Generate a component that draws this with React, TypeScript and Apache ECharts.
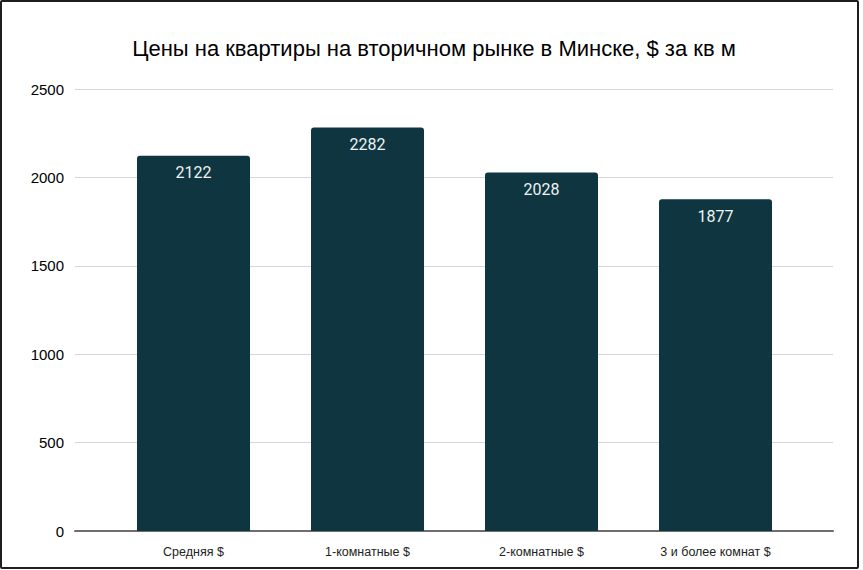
import { useEffect, useRef } from 'react';
import * as echarts from 'echarts';

const categories = ['Средняя $', '1-комнатные $', '2-комнатные $', '3 и более комнат $'];
const prices = [2122, 2282, 2028, 1877];
const yTicks = [0, 500, 1000, 1500, 2000, 2500];

const BAR_COLOR = '#0f3540';

export default function App() {
  const chartRef = useRef<HTMLDivElement>(null);

  useEffect(() => {
    if (!chartRef.current) return;
    const chart = echarts.init(chartRef.current, undefined, { renderer: 'svg' });

    const yMax = yTicks[yTicks.length - 1];

    const option: echarts.EChartsOption = {
      animation: false,
      backgroundColor: '#ffffff',
      title: {
        text: 'Цены на квартиры на вторичном рынке в Минске, $ за кв м',
        left: 429,
        top: 32,
        textAlign: 'center',
        textStyle: {
          fontFamily: 'Liberation Sans',
          fontSize: 22,
          fontWeight: 'normal',
          color: '#000000',
        },
      },
      grid: [
        // сетка и ось Y
        { left: 75, right: 30, top: 89, bottom: 39 },
        // столбцы
        { left: 106.5, right: 60.5, top: 89, bottom: 39 },
      ],
      xAxis: [
        {
          gridIndex: 0,
          type: 'value',
          min: 0,
          max: 1,
          axisLine: { show: true, onZero: false, lineStyle: { color: '#6e6e6e', width: 2 } },
          axisTick: { show: false },
          axisLabel: { show: false },
          splitLine: { show: false },
        },
        {
          gridIndex: 1,
          type: 'category',
          data: categories,
          axisLine: { show: false },
          axisTick: { show: false },
          axisLabel: {
            color: '#222222',
            fontFamily: 'Liberation Sans',
            fontSize: 12.5,
            margin: 14,
          },
        },
      ],
      yAxis: [
        {
          gridIndex: 0,
          type: 'value',
          min: 0,
          max: yMax,
          interval: 500,
          axisLine: { show: false },
          axisTick: { show: false },
          axisLabel: {
            color: '#000000',
            fontFamily: 'Liberation Sans',
            fontSize: 15,
            margin: 11,
            formatter: (v: number) => String(v),
          },
          splitLine: { lineStyle: { color: '#d6d6d6', width: 1 } },
        },
        {
          gridIndex: 1,
          type: 'value',
          min: 0,
          max: yMax,
          show: false,
          splitLine: { show: false },
        },
      ],
      series: [
        {
          type: 'bar',
          xAxisIndex: 1,
          yAxisIndex: 1,
          data: prices,
          barWidth: 113,
          itemStyle: { color: BAR_COLOR, borderRadius: [3, 3, 0, 0] },
          label: {
            show: true,
            position: 'insideTop',
            distance: 9,
            color: '#eef3f4',
            fontFamily: 'Roboto',
            fontSize: 16,
          },
        },
      ],
    };

    chart.setOption(option);
    return () => {
      chart.dispose();
    };
  }, []);

  return (
    <div style={{ position: 'fixed', left: 0, top: 0, width: 863, height: 570, background: '#fff' }}>
      <div ref={chartRef} style={{ position: 'absolute', left: 0, top: 0, width: 863, height: 570 }} />
      <div
        style={{
          position: 'absolute',
          left: 0,
          top: 0,
          width: 855,
          height: 565,
          border: '2px solid #1e1e1e',
          borderRadius: 2,
          pointerEvents: 'none',
        }}
      />
    </div>
  );
}
